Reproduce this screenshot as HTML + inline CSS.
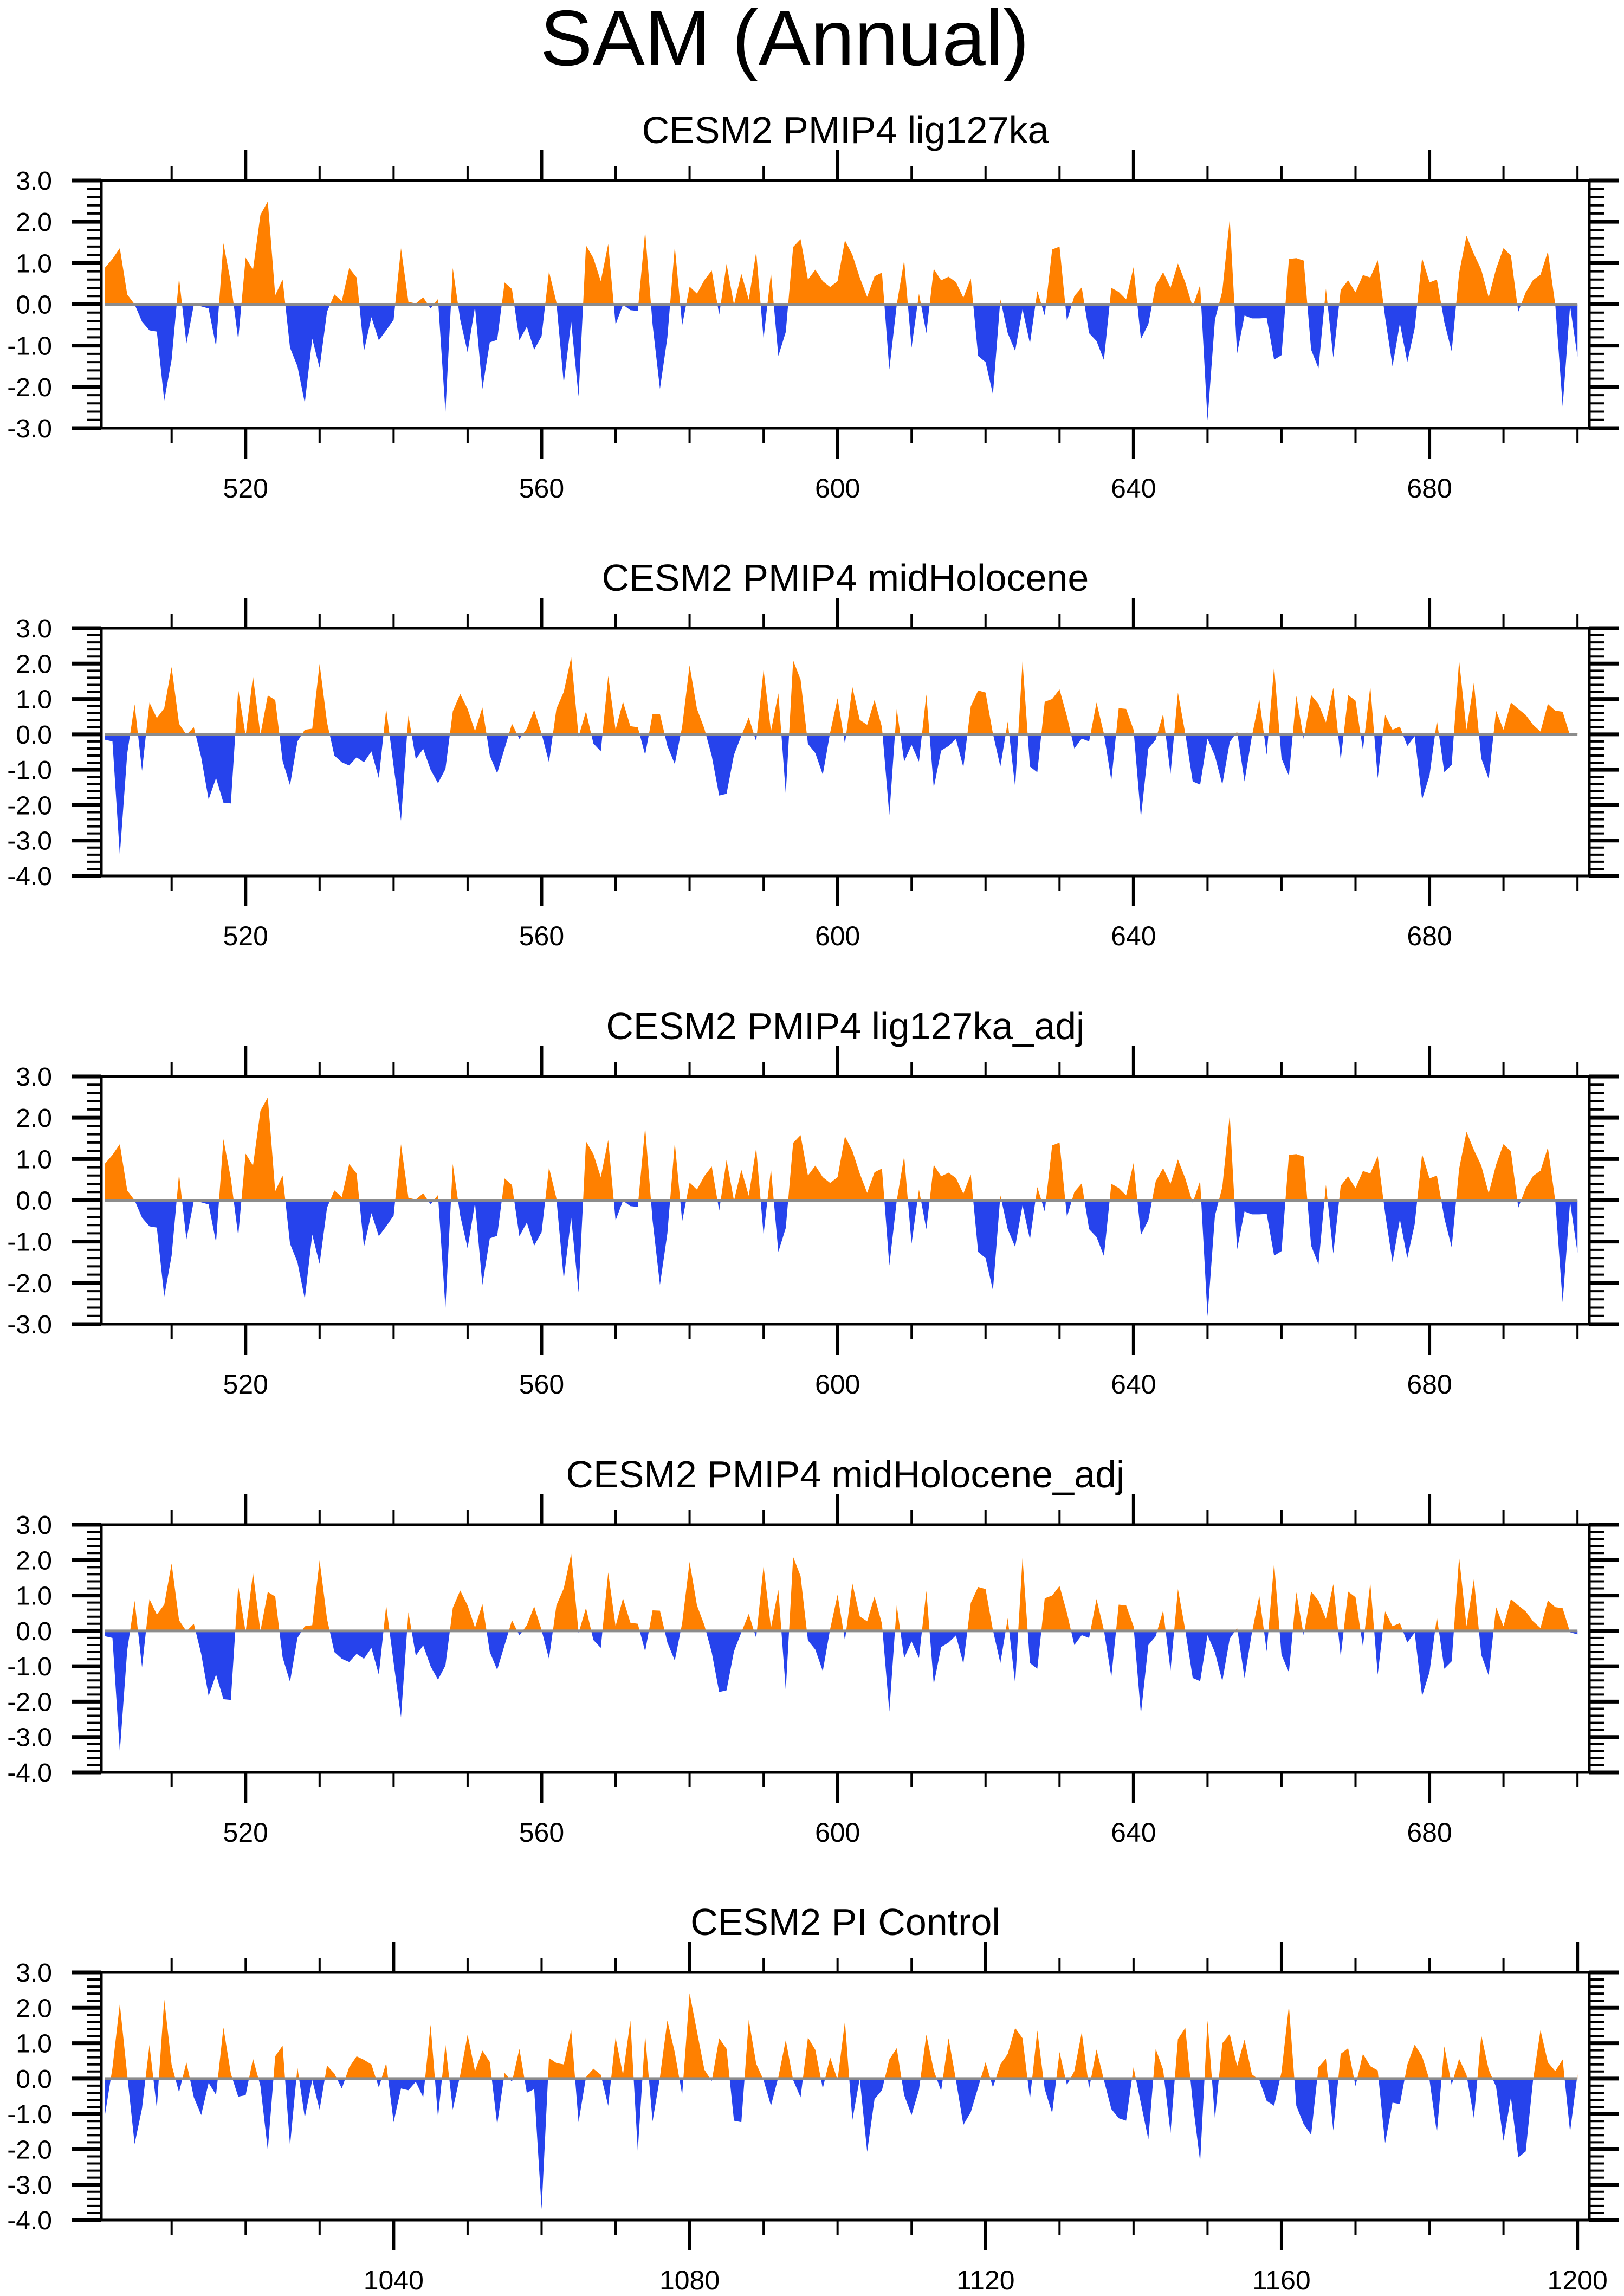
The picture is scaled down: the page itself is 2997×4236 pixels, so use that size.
<!DOCTYPE html>
<html><head><meta charset="utf-8">
<style>
html,body{margin:0;padding:0;background:#fff;}
svg{display:block;font-family:"Liberation Sans",sans-serif;}
</style></head>
<body>
<svg id="chart" width="2997" height="4236" viewBox="0 0 2997 4236" xmlns="http://www.w3.org/2000/svg">
<rect x="0" y="0" width="2997" height="4236" fill="#fff"/>
<text x="1448" y="120" font-size="145" text-anchor="middle" fill="#000">SAM (Annual)</text>
</svg>
<script>
const ligValues = [0.89,1.1,1.36,0.24,0,-0.42,-0.63,-0.66,-2.33,-1.34,0.64,-0.95,-0.01,-0.05,-0.1,-1.02,1.48,0.53,-0.86,1.13,0.84,2.17,2.49,0.22,0.6,-1.05,-1.5,-2.39,-0.83,-1.54,-0.18,0.24,0.08,0.88,0.65,-1.13,-0.31,-0.87,-0.63,-0.37,1.36,0.06,0.02,0.17,-0.1,0.13,-2.61,0.88,-0.37,-1.16,-0.06,-2.05,-0.92,-0.86,0.53,0.37,-0.87,-0.54,-1.1,-0.77,0.8,0.05,-1.91,-0.42,-2.23,1.43,1.12,0.56,1.46,-0.49,-0.01,-0.14,-0.16,1.77,-0.49,-2.05,-0.8,1.4,-0.51,0.43,0.26,0.59,0.82,-0.25,0.98,-0.01,0.74,0.11,1.27,-0.83,0.76,-1.25,-0.67,1.39,1.58,0.6,0.84,0.56,0.42,0.56,1.55,1.2,0.65,0.18,0.68,0.77,-1.58,-0.01,1.07,-1.05,0.26,-0.7,0.86,0.58,0.67,0.54,0.16,0.63,-1.25,-1.4,-2.18,0.12,-0.7,-1.13,-0.12,-0.95,0.32,-0.27,1.33,1.4,-0.4,0.2,0.41,-0.7,-0.89,-1.35,0.4,0.3,0.12,0.9,-0.84,-0.48,0.46,0.78,0.4,0.99,0.53,-0.06,0.47,-2.81,-0.37,0.32,2.07,-1.19,-0.27,-0.34,-0.34,-0.33,-1.34,-1.23,1.1,1.12,1.06,-1.1,-1.55,0.38,-1.29,0.35,0.58,0.29,0.71,0.65,1.07,-0.31,-1.5,-0.46,-1.4,-0.58,1.12,0.53,0.6,-0.43,-1.14,0.76,1.66,1.22,0.84,0.17,0.86,1.36,1.18,-0.18,0.29,0.59,0.72,1.28,-0.01,-2.47,-0.04,-1.27];
const midValues = [-0.15,-0.2,-3.41,-0.54,0.85,-1.03,0.9,0.46,0.74,1.9,0.3,-0.01,0.2,-0.65,-1.84,-1.23,-1.93,-1.95,1.27,-0.04,1.64,-0.01,1.1,0.97,-0.75,-1.44,-0.2,0.13,0.16,1.99,0.34,-0.6,-0.79,-0.88,-0.65,-0.79,-0.48,-1.24,0.72,-0.9,-2.44,0.53,-0.7,-0.41,-1.0,-1.38,-0.98,0.65,1.14,0.72,0.09,0.76,-0.6,-1.1,-0.4,0.3,-0.13,0.16,0.69,0.02,-0.79,0.72,1.2,2.18,-0.06,0.65,-0.26,-0.48,1.65,0.13,0.92,0.23,0.2,-0.58,0.58,0.57,-0.33,-0.84,0.22,1.95,0.72,0.16,-0.61,-1.73,-1.68,-0.58,-0.04,0.48,-0.2,1.83,0.09,1.16,-1.68,2.09,1.55,-0.27,-0.53,-1.14,0.05,1.02,-0.27,1.34,0.41,0.27,0.97,0.2,-2.28,0.72,-0.77,-0.3,-0.77,1.13,-1.51,-0.46,-0.33,-0.13,-0.93,0.79,1.24,1.18,0.02,-0.91,0.36,-1.49,2.07,-0.91,-1.07,0.92,1.0,1.27,0.51,-0.4,-0.12,-0.2,0.9,0.02,-1.3,0.74,0.72,0.13,-2.35,-0.4,-0.15,0.58,-1.12,1.18,0.02,-1.33,-1.42,-0.12,-0.61,-1.42,-0.22,0.08,-1.33,-0.05,0.99,-0.58,1.92,-0.68,-1.17,1.09,-0.13,1.11,0.86,0.34,1.32,-0.72,1.11,0.95,-0.44,1.36,-1.24,0.55,0.13,0.22,-0.33,-0.05,-1.84,-1.16,0.39,-1.07,-0.86,2.09,0.13,1.46,-0.68,-1.26,0.67,0.13,0.9,0.72,0.55,0.27,0.08,0.86,0.67,0.64,-0.04,0.04];
const ligAdjValues = [0.89,1.1,1.36,0.24,0,-0.42,-0.63,-0.66,-2.33,-1.34,0.64,-0.95,-0.01,-0.05,-0.1,-1.02,1.48,0.53,-0.86,1.13,0.84,2.17,2.49,0.22,0.6,-1.05,-1.5,-2.39,-0.83,-1.54,-0.18,0.24,0.08,0.88,0.65,-1.13,-0.31,-0.87,-0.63,-0.37,1.36,0.06,0.02,0.17,-0.1,0.13,-2.61,0.88,-0.37,-1.16,-0.06,-2.05,-0.92,-0.86,0.53,0.37,-0.87,-0.54,-1.1,-0.77,0.8,0.05,-1.91,-0.42,-2.23,1.43,1.12,0.56,1.46,-0.49,-0.01,-0.14,-0.16,1.77,-0.49,-2.05,-0.8,1.4,-0.51,0.43,0.26,0.59,0.82,-0.25,0.98,-0.01,0.74,0.11,1.27,-0.83,0.76,-1.25,-0.67,1.39,1.58,0.6,0.84,0.56,0.42,0.56,1.55,1.2,0.65,0.18,0.68,0.77,-1.58,-0.01,1.07,-1.05,0.26,-0.7,0.86,0.58,0.67,0.54,0.16,0.63,-1.25,-1.4,-2.18,0.12,-0.7,-1.13,-0.12,-0.95,0.32,-0.27,1.33,1.4,-0.4,0.2,0.41,-0.7,-0.89,-1.35,0.4,0.3,0.12,0.9,-0.84,-0.48,0.46,0.78,0.4,0.99,0.53,-0.06,0.47,-2.81,-0.37,0.32,2.07,-1.19,-0.27,-0.34,-0.34,-0.33,-1.34,-1.23,1.1,1.12,1.06,-1.1,-1.55,0.38,-1.29,0.35,0.58,0.29,0.71,0.65,1.07,-0.31,-1.5,-0.46,-1.4,-0.58,1.12,0.53,0.6,-0.43,-1.14,0.76,1.66,1.22,0.84,0.17,0.86,1.36,1.18,-0.18,0.29,0.59,0.72,1.28,-0.01,-2.47,-0.04,-1.27];
const midAdjValues = [-0.15,-0.2,-3.41,-0.54,0.85,-1.03,0.9,0.46,0.74,1.9,0.3,-0.01,0.2,-0.65,-1.84,-1.23,-1.93,-1.95,1.27,-0.04,1.64,-0.01,1.1,0.97,-0.75,-1.44,-0.2,0.13,0.16,1.99,0.34,-0.6,-0.79,-0.88,-0.65,-0.79,-0.48,-1.24,0.72,-0.9,-2.44,0.53,-0.7,-0.41,-1.0,-1.38,-0.98,0.65,1.14,0.72,0.09,0.76,-0.6,-1.1,-0.4,0.3,-0.13,0.16,0.69,0.02,-0.79,0.72,1.2,2.18,-0.06,0.65,-0.26,-0.48,1.65,0.13,0.92,0.23,0.2,-0.58,0.58,0.57,-0.33,-0.84,0.22,1.95,0.72,0.16,-0.61,-1.73,-1.68,-0.58,-0.04,0.48,-0.2,1.83,0.09,1.16,-1.68,2.09,1.55,-0.27,-0.53,-1.14,0.05,1.02,-0.27,1.34,0.41,0.27,0.97,0.2,-2.28,0.72,-0.77,-0.3,-0.77,1.13,-1.51,-0.46,-0.33,-0.13,-0.93,0.79,1.24,1.18,0.02,-0.91,0.36,-1.49,2.07,-0.91,-1.07,0.92,1.0,1.27,0.51,-0.4,-0.12,-0.2,0.9,0.02,-1.3,0.74,0.72,0.13,-2.35,-0.4,-0.15,0.58,-1.12,1.18,0.02,-1.33,-1.42,-0.12,-0.61,-1.42,-0.22,0.08,-1.33,-0.05,0.99,-0.58,1.92,-0.68,-1.17,1.09,-0.13,1.11,0.86,0.34,1.32,-0.72,1.11,0.95,-0.44,1.36,-1.24,0.55,0.13,0.22,-0.33,-0.05,-1.84,-1.16,0.39,-1.07,-0.86,2.09,0.13,1.46,-0.68,-1.26,0.67,0.13,0.9,0.72,0.55,0.27,0.08,0.86,0.67,0.64,-0.04,-0.1];
const piValues = [-1.02,0.3,2.11,0.1,-1.85,-0.84,0.95,-0.84,2.23,0.39,-0.39,0.46,-0.53,-1.03,-0.12,-0.46,1.44,0.14,-0.51,-0.47,0.56,-0.21,-2.02,0.63,0.93,-1.9,0.32,-1.1,-0.04,-0.88,0.37,0.14,-0.28,0.32,0.63,0.53,0.4,-0.25,0.44,-1.23,-0.28,-0.33,-0.09,-0.53,1.52,-1.1,0.96,-0.88,0.1,1.24,0.21,0.79,0.47,-1.3,0.16,-0.09,0.84,-0.4,-0.3,-3.69,0.58,0.44,0.4,1.38,-1.23,0.04,0.28,0.11,-0.77,1.16,0.11,1.64,-2.04,1.23,-1.21,0.04,1.64,0.74,-0.46,2.41,1.33,0.25,-0.07,1.14,0.84,-1.19,-1.23,1.66,0.42,-0.04,-0.77,0.04,1.09,-0.04,-0.53,1.16,0.81,-0.28,0.6,-0.04,1.62,-1.17,0,-2.07,-0.58,-0.33,0.54,0.86,-0.47,-1.03,-0.32,1.24,0.23,-0.35,1.14,-0.04,-1.31,-0.95,-0.25,0.46,-0.25,0.4,0.7,1.43,1.14,-0.58,1.36,-0.3,-0.98,0.75,-0.18,0.21,1.31,-0.28,0.82,-0.04,-0.86,-1.12,-1.19,0.32,-0.7,-1.72,0.84,0.25,-1.54,1.12,1.43,-0.67,-2.35,1.64,-1.14,1.0,1.26,0.35,1.1,0.12,-0.04,-0.63,-0.77,0.19,2.06,-0.77,-1.29,-1.59,0.32,0.56,-1.47,0.7,0.86,-0.21,0.7,0.35,0.23,-1.83,-0.68,-0.72,0.39,0.96,0.63,-0.04,-1.54,0.91,-0.18,0.56,0.11,-1.12,1.23,0.25,-0.23,-1.76,-0.53,-2.23,-2.06,-0.04,1.37,0.46,0.21,0.54,-1.51,0.12];
const yTicksA = [3,2,1,0,-1,-2,-3];
const yTicksB = [3,2,1,0,-1,-2,-3,-4];
const panelTitles = ["CESM2 PMIP4 lig127ka","CESM2 PMIP4 midHolocene","CESM2 PMIP4 lig127ka_adj","CESM2 PMIP4 midHolocene_adj","CESM2 PI Control"];

const NS = "http://www.w3.org/2000/svg";
const svg = document.getElementById('chart');
const L = 187, R = 2933, H = 457;
function mk(tag, attrs, parent){
  const e = document.createElementNS(NS, tag);
  for (const k in attrs) e.setAttribute(k, attrs[k]);
  parent.appendChild(e);
  return e;
}
const panels = [
  {top:333, ymin:-3, ymax:3, base:500, data:ligValues, ticks:yTicksA},
  {top:1159, ymin:-4, ymax:3, base:500, data:midValues, ticks:yTicksB},
  {top:1986, ymin:-3, ymax:3, base:500, data:ligAdjValues, ticks:yTicksA},
  {top:2813, ymin:-4, ymax:3, base:500, data:midAdjValues, ticks:yTicksB},
  {top:3639, ymin:-4, ymax:3, base:1000, data:piValues, ticks:yTicksB}
];
panels.forEach((p, pi) => {
  const g = mk('g', {}, svg);
  
  
  const xs = yr => L + (yr - p.base - 0.5) * (R - L) / 201.1;
  const ys = v => p.top + (p.ymax - v) / (p.ymax - p.ymin) * H;
  const B = p.top + H;
  const t = mk('text', {x:(L+R)/2, y:p.top-69, 'font-size':70, 'text-anchor':'middle', fill:'#000'}, g);
  t.textContent = panelTitles[pi];
  
  
  const pts = [];
  const d = p.data;
  for (let i = 0; i < d.length; i++) {
    const yr = p.base + 1 + i;
    if (i > 0 && (d[i-1] > 0) !== (d[i] > 0) && d[i-1] !== 0 && d[i] !== 0) {
      const f = d[i-1] / (d[i-1] - d[i]);
      pts.push([yr - 1 + f, 0]);
    }
    pts.push([yr, d[i]]);
  }
  const first = pts[0][0], last = pts[pts.length-1][0];
  function area(fn){
    let s = 'M' + xs(first).toFixed(1) + ',' + ys(0).toFixed(1);
    pts.forEach(q => { s += 'L' + xs(q[0]).toFixed(1) + ',' + ys(fn(q[1])).toFixed(1); });
    s += 'L' + xs(last).toFixed(1) + ',' + ys(0).toFixed(1) + 'Z';
    return s;
  }
  const pos = mk('path', {d:area(v => Math.max(v,0)), fill:'#ff8000'}, g);
  
  
  const neg = mk('path', {d:area(v => Math.min(v,0)), fill:'#2643ec'}, g);
  
  
  const zl = mk('line', {x1:xs(first), x2:xs(last), y1:ys(0), y2:ys(0), stroke:'#8c8c8c', 'stroke-width':5}, g);
  
  
  const box = mk('rect', {x:L, y:p.top, width:R-L, height:H, fill:'none', stroke:'#000', 'stroke-width':5}, g);
  
  
  for (let k = Math.round(p.ymin*5); k <= Math.round(p.ymax*5); k++) {
    const v = k / 5, y = ys(v), major = (k % 5 === 0);
    const len = major ? 54 : 27, w = major ? 7 : 4;
    const tl = mk('line', {x1:L-len, x2:L, y1:y, y2:y, stroke:'#000', 'stroke-width':w}, g);
    
    
    const tr = mk('line', {x1:R, x2:R+len, y1:y, y2:y, stroke:'#000', 'stroke-width':w}, g);
    
    
  }
  p.ticks.forEach(v => {
    const lb = mk('text', {x:96, y:ys(v)+17, 'font-size':48, 'text-anchor':'end', fill:'#000'}, g);
    lb.textContent = v.toFixed(1);
    
    
  });
  for (let yr = p.base + 10; yr <= p.base + 200; yr += 10) {
    const x = xs(yr), major = (yr % 40 === 0);
    const len = major ? 56 : 27, w = major ? 6 : 4;
    const tb = mk('line', {x1:x, x2:x, y1:B, y2:B+len, stroke:'#000', 'stroke-width':w}, g);
    
    
    const tt = mk('line', {x1:x, x2:x, y1:p.top-len, y2:p.top, stroke:'#000', 'stroke-width':w}, g);
    
    
    if (major) {
      const lb = mk('text', {x:x, y:B+128, 'font-size':50, 'text-anchor':'middle', fill:'#000'}, g);
      lb.textContent = String(yr);
      
      
    }
  }
});
</script>
</body></html>
